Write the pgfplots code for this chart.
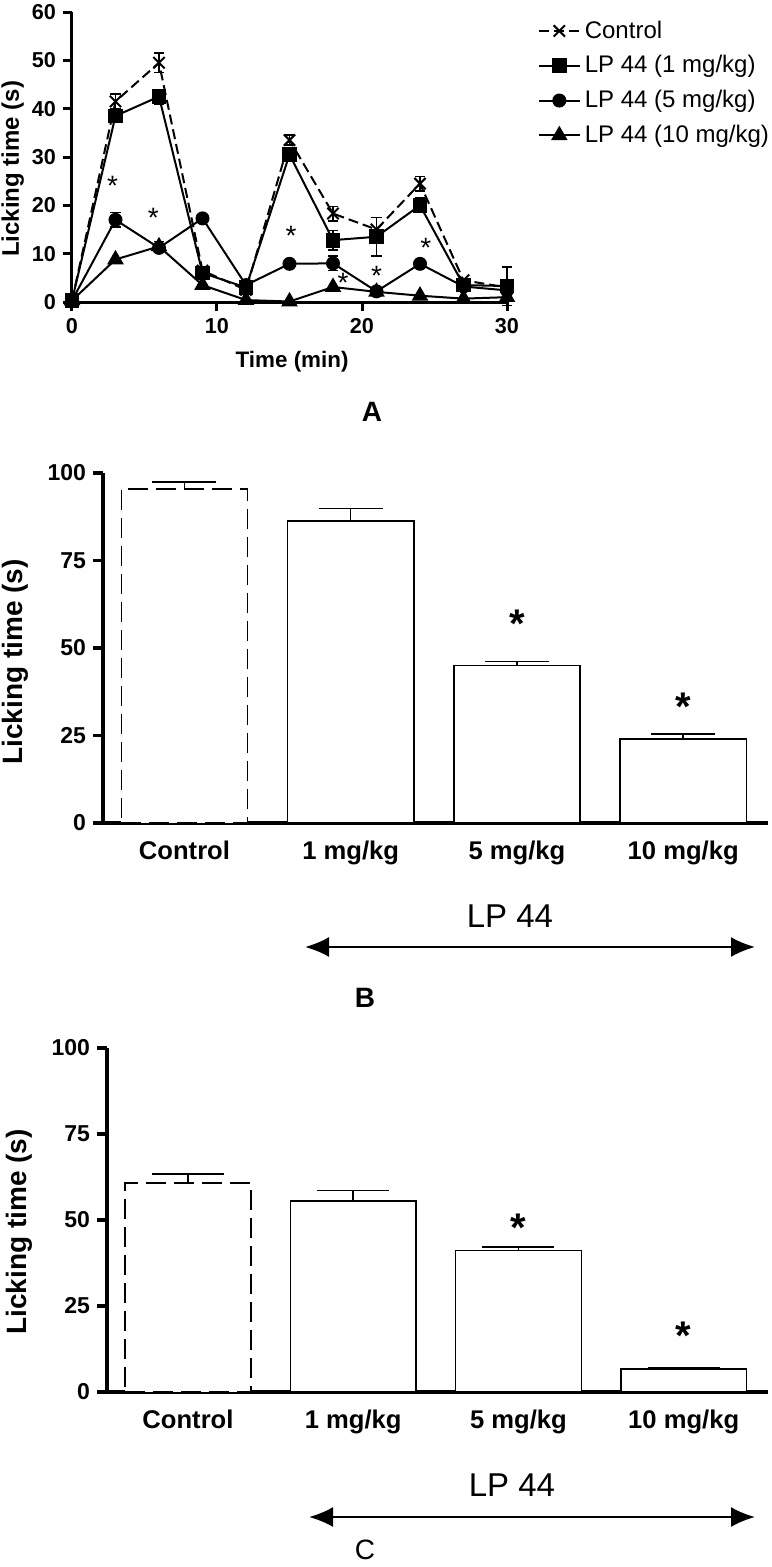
\documentclass[border=0pt]{standalone}
\usepackage{fontspec}
\setmainfont{Liberation Sans}
\usepackage{pgfplots}
\pgfplotsset{compat=1.18}
\usetikzlibrary{arrows.meta}
\newcommand{\fs}[1]{\fontsize{#1}{#1}\selectfont}

\pgfplotsset{
 barpanel/.style={
   scale only axis,
   xmin=-0.49, xmax=3.51, ymin=0, ymax=100,
   axis lines=left, axis line style={-, line width=2.2pt},
   ytick={0,25,50,75,100},
   xtick={0,1,2,3},
   xticklabels={Control,1 mg/kg,5 mg/kg,10 mg/kg},
   tick align=outside,
   major tick length=5pt,
   y tick style={line width=1.6pt, black},
   x tick style={draw=none},
   /pgf/number format/assume math mode=true,
   yticklabel style={font=\fs{11.5}\bfseries},
   xticklabel style={font=\fs{12.8}\bfseries, anchor=base, yshift=-13pt},
   ylabel={Licking time (s)},
   ylabel style={font=\fs{14}\bfseries, anchor=center},
   clip=false,
   ybar, bar width=0.76,
   error bars/y dir=plus, error bars/y explicit,
   error bars/error bar style={solid, line width=0.75pt, black},
 },
 ctrlbar/.style={draw=black, line width=0.75pt, dash pattern=on 10pt off 4pt, fill=white, bar shift=0pt},
 lpbar/.style={draw=black, line width=0.75pt, fill=white, bar shift=0pt},
}

\begin{document}
\begin{tikzpicture}
\path[use as bounding box] (0,0) rectangle (385.5pt,-783.5pt);

% ---------------- Panel A ----------------
\begin{axis}[
  at={(36pt,-151pt)}, anchor=south west,
  scale only axis, width=217.5pt, height=145pt,
  xmin=0, xmax=30, ymin=0, ymax=60,
  axis lines=left, axis line style={-, line width=1.5pt},
  xtick={0,10,20,30}, ytick={0,10,...,60},
  tick align=outside, major tick length=4.5pt,
  tick style={line width=1.5pt, black},
  /pgf/number format/assume math mode=true,
  tick label style={font=\fs{10.8}\bfseries},
  xlabel={Time (min)}, ylabel={Licking time (s)},
  xlabel style={font=\fs{11.2}\bfseries, at={(axis description cs:0.506,-0.207)}, anchor=center},
  ylabel style={font=\fs{12}\bfseries, at={(axis description cs:-0.136,0.459)}, anchor=center},
  clip=false,
  error bars/y dir=both, error bars/y explicit,
  error bars/error bar style={solid, line width=0.8pt, black},
  error bars/error mark options={solid, rotate=90, mark size=2.6pt, line width=0.8pt, black},
  legend style={at={(1.07,0.985)}, anchor=north west, draw=none, fill=none,
    font=\fs{12}, row sep=3.2pt, inner sep=0pt, cells={anchor=west}},
  legend image code/.code={
    \draw[mark repeat=2,mark phase=2,#1] plot coordinates {(0cm,0cm) (0.36cm,0cm) (0.72cm,0cm)};
  },
]
\addplot[black, line width=1pt, dash pattern=on 5pt off 2.5pt, mark=x, mark size=4pt,
  mark options={solid, line width=1pt}]
  table[x=x, y=y, y error=e] {
  x y e
  0 0.3 0
  3 41.5 1.5
  6 49.5 2
  9 6.5 0
  12 2.5 0
  15 33.5 1
  18 18.3 1.5
  21 15 2.5
  24 24.5 1.5
  27 4.5 0
  30 3 0
};
\addlegendentry{Control}
\addplot[black, line width=1pt, mark=square*, mark size=3.2pt, mark options={solid, fill=black}]
  table[x=x, y=y, y error=e] {
  x y e
  0 0.3 0
  3 38.5 1
  6 42.5 1.5
  9 6 0
  12 3 0
  15 30.5 1
  18 12.8 2
  21 13.5 4
  24 20 1.5
  27 3.5 0
  30 3.3 4
};
\addlegendentry{LP 44 (1 mg/kg)}
\addplot[black, line width=1pt, mark=*, mark size=3pt, mark options={solid, fill=black}]
  table[x=x, y=y, y error=e] {
  x y e
  0 0.3 0
  3 17 1.5
  6 11.2 0
  9 17.3 0
  12 3.5 0
  15 7.9 0
  18 8 1.5
  21 2.2 0
  24 7.9 0
  27 3.2 0
  30 2.4 0
};
\addlegendentry{LP 44 (5 mg/kg)}
\addplot[black, line width=1pt, mark=triangle*, mark size=3.8pt, mark options={solid, fill=black}]
  table[x=x, y=y, y error=e] {
  x y e
  0 0.3 0
  3 8.8 0
  6 11.5 1
  9 3.5 0
  12 0.4 0
  15 0.1 0
  18 3.1 0
  21 2.1 0
  24 1.3 0
  27 0.7 0
  30 1.0 0
};
\addlegendentry{LP 44 (10 mg/kg)}
\begin{scope}[every node/.style={font=\fs{14}, inner sep=0pt, yshift=-2.9pt}]
\node at (axis cs:2.8,25.2) {*};
\node at (axis cs:5.6,18.7) {*};
\node at (axis cs:15.1,14.9) {*};
\node at (axis cs:18.7,5.2) {*};
\node at (axis cs:21,6.6) {*};
\node at (axis cs:24.4,12.4) {*};
\end{scope}
\end{axis}
\node[font=\fs{14}\bfseries] at (186pt,-206pt) {A};

% ---------------- Panel B ----------------
\begin{axis}[barpanel,
  at={(51.5pt,-411.5pt)}, anchor=south west,
  width=332.5pt, height=175pt,
  ylabel style={at={(axis description cs:-0.132,0.46)}},
  error bars/error mark options={solid, rotate=90, mark size=16pt, line width=0.75pt, black},
]
\addplot[ctrlbar] coordinates {(0,95.5) +- (0,1.9)};
\addplot[lpbar] coordinates {(1,86.3) +- (0,3.5) (2,45) +- (0,1.2) (3,24) +- (0,1.5)};
\node[font=\fs{20}\bfseries, inner sep=0pt, yshift=-4.2pt] at (axis cs:2,59.4) {*};
\node[font=\fs{20}\bfseries, inner sep=0pt, yshift=-4.2pt] at (axis cs:3,35.7) {*};
\end{axis}
\node[font=\fs{16.5}] at (255pt,-458pt) {LP 44};
\draw[line width=1.1pt, {Latex[length=12pt,width=10pt]}-{Latex[length=12pt,width=10pt]}] (152.5pt,-473.5pt) -- (377.5pt,-473.5pt);
\node[font=\fs{14}\bfseries] at (182.5pt,-499pt) {B};

% ---------------- Panel C ----------------
\begin{axis}[barpanel,
  at={(53.5pt,-696pt)}, anchor=south west,
  width=330.5pt, height=172pt,
  ylabel style={at={(axis description cs:-0.132,0.465)}},
  error bars/error mark options={solid, rotate=90, mark size=18pt, line width=0.75pt, black},
]
\addplot[ctrlbar] coordinates {(0,60.8) +- (0,2.6)};
\addplot[lpbar] coordinates {(1,55.5) +- (0,3.1) (2,41.1) +- (0,1.0) (3,6.7) +- (0,0.3)};
\node[font=\fs{20}\bfseries, inner sep=0pt, yshift=-4.2pt] at (axis cs:2,50.3) {*};
\node[font=\fs{20}\bfseries, inner sep=0pt, yshift=-4.2pt] at (axis cs:3,18.8) {*};
\end{axis}
\node[font=\fs{16.5}] at (256pt,-742.5pt) {LP 44};
\draw[line width=1.1pt, {Latex[length=12pt,width=10pt]}-{Latex[length=12pt,width=10pt]}] (154.5pt,-758.5pt) -- (377.5pt,-758.5pt);
\node[font=\fs{14}] at (182.5pt,-775pt) {C};
\end{tikzpicture}
\end{document}
